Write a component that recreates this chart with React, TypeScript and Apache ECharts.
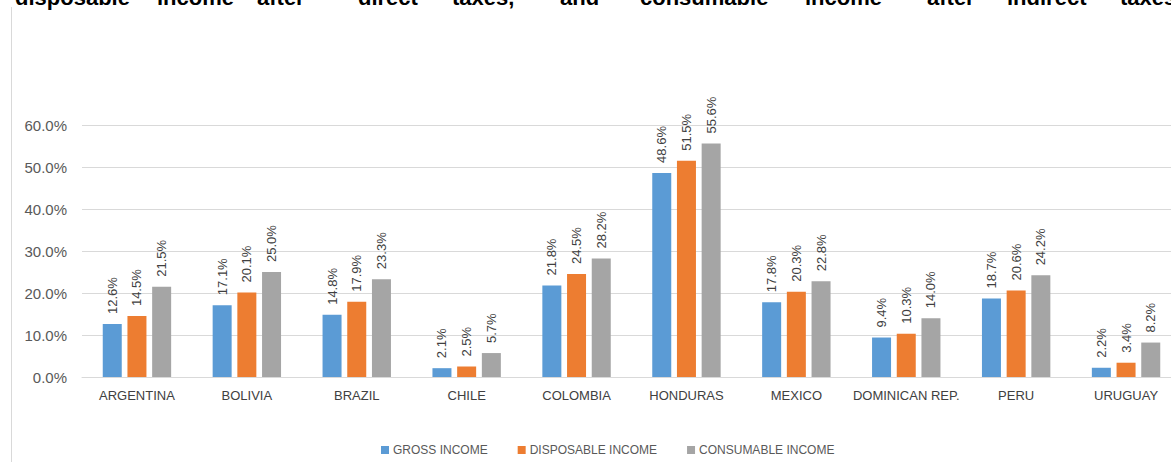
import React, { useEffect, useRef } from "react";
import * as echarts from "echarts";

const categories = ["ARGENTINA", "BOLIVIA", "BRAZIL", "CHILE", "COLOMBIA", "HONDURAS", "MEXICO", "DOMINICAN REP.", "PERU", "URUGUAY"];
const grossIncome = [12.6, 17.1, 14.8, 2.1, 21.8, 48.6, 17.8, 9.4, 18.7, 2.2];
const disposableIncome = [14.5, 20.1, 17.9, 2.5, 24.5, 51.5, 20.3, 10.3, 20.6, 3.4];
const consumableIncome = [21.5, 25.0, 23.3, 5.7, 28.2, 55.6, 22.8, 14.0, 24.2, 8.2];
const seriesNames = ["GROSS INCOME", "DISPOSABLE INCOME", "CONSUMABLE INCOME"];
const headerWords = ["disposable", "income", "after", "direct", "taxes,", "and", "consumable", "income", "after", "indirect", "taxes"];

const headerX = [15, 157, 257, 358, 452, 560, 640, 805, 927, 1007, 1120];
const colors = ["#5B9BD5", "#ED7D31", "#A5A5A5"];

export default function App() {
  const ref = useRef<HTMLDivElement>(null);
  useEffect(() => {
    if (!ref.current) return;
    const chart = echarts.init(ref.current, undefined, { renderer: "svg" });
    const font = "'Liberation Sans', Arial, sans-serif";
    const mk = (name: string, data: number[], color: string) => ({
      name,
      type: "bar",
      data,
      barWidth: 19,
      barGap: "30%",
      itemStyle: { color },
      label: {
        show: true,
        position: "top",
        rotate: 90,
        align: "left",
        verticalAlign: "middle",
        distance: 10,
        fontSize: 13,
        fontFamily: font,
        color: "#404040",
        formatter: (p: any) => p.value.toFixed(1) + "%",
      },
    });
    chart.setOption({
      animation: false,
      color: colors,
      textStyle: { fontFamily: font },
      graphic: [
        {
          type: "line",
          shape: { x1: 11.5, y1: 7, x2: 11.5, y2: 462 },
          style: { stroke: "#d9d9d9", lineWidth: 1 },
        },
        ...headerWords.map((w, i) => ({
          type: "text",
          x: headerX[i],
          y: 8,
          style: {
            text: w,
            fontSize: 22,
            fontWeight: "bold",
            fontFamily: font,
            fill: "#000",
            textVerticalAlign: "bottom",
          },
        })),
      ],
      legend: {
        data: seriesNames,
        left: 376,
        top: 439,
        icon: "rect",
        itemWidth: 8,
        itemHeight: 8,
        itemGap: 30,
        textStyle: { fontSize: 12, color: "#595959", fontFamily: font, padding: [0, 0, 0, -1] },
      },
      grid: { left: 82, top: 125, width: 1099, height: 252, containLabel: false },
      xAxis: {
        type: "category",
        data: categories,
        axisLine: { lineStyle: { color: "#d9d9d9" } },
        axisTick: { show: false },
        axisLabel: { fontSize: 13, color: "#404040", margin: 12, fontFamily: font, interval: 0 },
      },
      yAxis: {
        type: "value",
        min: 0,
        max: 60,
        interval: 10,
        axisLine: { show: false },
        axisTick: { show: false },
        splitLine: { lineStyle: { color: "#d9d9d9" } },
        axisLabel: {
          fontSize: 15,
          color: "#595959",
          margin: 15,
          fontFamily: font,
          formatter: (v: number) => v.toFixed(1) + "%",
        },
      },
      series: [
        mk(seriesNames[0], grossIncome, colors[0]),
        mk(seriesNames[1], disposableIncome, colors[1]),
        mk(seriesNames[2], consumableIncome, colors[2]),
      ],
    });
    return () => chart.dispose();
  }, []);
  return (
    <div style={{ position: "absolute", left: 0, top: 0, width: 1171, height: 462, overflow: "hidden", background: "#fff" }}>
      <div ref={ref} style={{ width: 1200, height: 462 }} />
    </div>
  );
}
